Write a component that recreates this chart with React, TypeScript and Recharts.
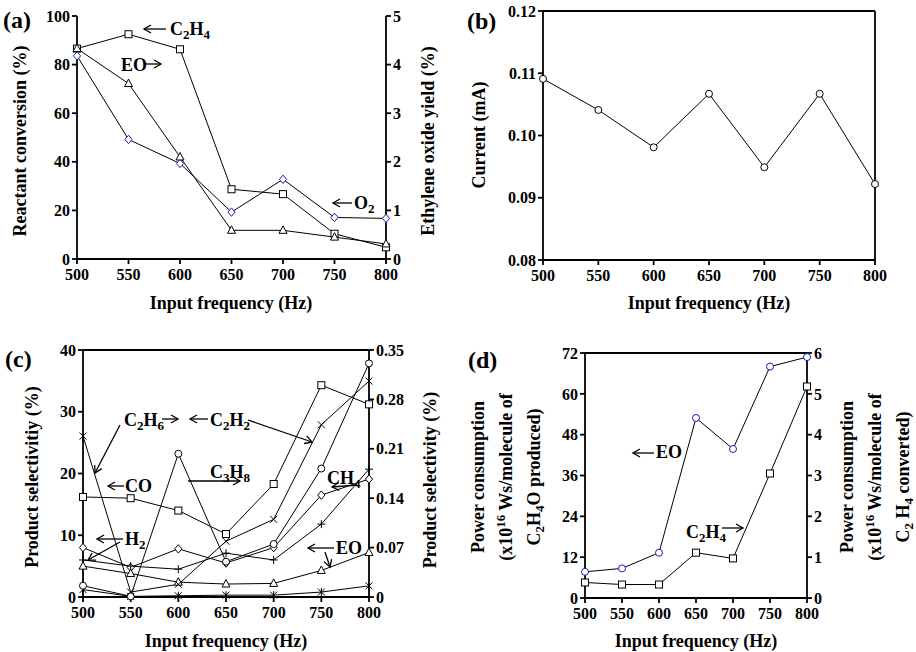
import React from "react";
import { LineChart, Line, XAxis, YAxis, ReferenceLine } from "recharts";

const freqs = [500, 550, 600, 650, 700, 750, 800];

// (a) reactant conversion (%) and EO yield (%)
const c2h4Conversion = [86.6, 92.5, 86.3, 28.7, 26.7, 10.4, 4.8];
const o2Conversion = [83.6, 49.2, 39.3, 19.3, 32.8, 17.1, 16.7];
const eoYield = [4.33, 3.61, 2.1, 0.59, 0.59, 0.45, 0.31];

// (b) current (mA)
const current = [0.1091, 0.1041, 0.0981, 0.1067, 0.0949, 0.1067, 0.0922];

// (c) product selectivity, left axis (%)
const coSel = [16.2, 16.0, 14.0, 10.2, 18.3, 34.3, 31.2];
const ch4Sel = [8.0, 4.8, 7.8, 5.5, 8.0, 16.5, 19.1];
const h2Sel = [6.0, 5.0, 4.5, 7.1, 6.0, 11.8, 20.7];
const eoSel = [5.0, 3.8, 2.4, 2.1, 2.2, 4.3, 7.2];
const c2h2Sel = [1.2, 0.1, 0.2, 0.3, 0.3, 0.8, 1.8];
// (c) product selectivity, right axis (%)
const c3h8Sel = [0.016, 0.001, 0.203, 0.05, 0.075, 0.182, 0.331];
const c2h6Sel = [0.228, 0.007, 0.018, 0.079, 0.11, 0.244, 0.306];

// (d) power consumption
const eoPower = [7.7, 8.7, 13.3, 52.9, 43.8, 68.0, 70.8];
const c2h4Power = [0.38, 0.33, 0.33, 1.11, 0.97, 3.05, 5.18];

const ticksA = [0, 20, 40, 60, 80, 100];
const ticksA2 = [0, 1, 2, 3, 4, 5];
const ticksB = [0.08, 0.09, 0.1, 0.11, 0.12];
const ticksC = [0, 10, 20, 30, 40];
const ticksC2 = [0, 0.07, 0.14, 0.21, 0.28, 0.35];
const ticksD = [0, 12, 24, 36, 48, 60, 72];
const ticksD2 = [0, 1, 2, 3, 4, 5, 6];

const FONT = "'Liberation Serif', 'Times New Roman', serif";
const BLUE = "#1c1cb4";
const tickStyle = { fill: "#000", fontSize: 16, fontWeight: 700, fontFamily: FONT };

const Marker = ({ cx, cy, shape, color }: any) => {
  if (cx == null || cy == null) return null;
  const s = 3.5;
  switch (shape) {
    case "square":
      return <rect x={cx - s} y={cy - s} width={2 * s} height={2 * s} fill="#fff" stroke={color} />;
    case "circle":
      return <circle cx={cx} cy={cy} r={s} fill="#fff" stroke={color} />;
    case "diamond":
      return (
        <polygon
          points={`${cx},${cy - 4.2} ${cx + 3.6},${cy} ${cx},${cy + 4.2} ${cx - 3.6},${cy}`}
          fill="#fff"
          stroke={color}
        />
      );
    case "triangle":
      return (
        <polygon
          points={`${cx},${cy - 4.5} ${cx + 4},${cy + 3} ${cx - 4},${cy + 3}`}
          fill="#fff"
          stroke={color}
        />
      );
    case "cross":
      return (
        <path d={`M${cx - s},${cy - s}L${cx + s},${cy + s}M${cx - s},${cy + s}L${cx + s},${cy - s}`} stroke={color} />
      );
    case "plus":
      return <path d={`M${cx - 4},${cy}L${cx + 4},${cy}M${cx},${cy - 4}L${cx},${cy + 4}`} stroke={color} />;
    default:
      return (
        <path
          d={`M${cx - s},${cy - s}L${cx + s},${cy + s}M${cx - s},${cy + s}L${cx + s},${cy - s}M${cx},${cy - 4}L${cx},${cy + 4}`}
          stroke={color}
        />
      );
  }
};

const dotFn = (shape: string, color = "#000") => (p: any) =>
  <Marker key={`${shape}-${p.index}`} cx={p.cx} cy={p.cy} shape={shape} color={color} />;

const dataA = freqs.map((f, i) => ({ f, c2h4: c2h4Conversion[i], o2: o2Conversion[i], eo: eoYield[i] }));
const dataB = freqs.map((f, i) => ({ f, current: current[i] }));
const dataC = freqs.map((f, i) => ({
  f,
  co: coSel[i],
  ch4: ch4Sel[i],
  h2: h2Sel[i],
  eo: eoSel[i],
  c2h2: c2h2Sel[i],
  c3h8: c3h8Sel[i],
  c2h6: c2h6Sel[i],
}));
const dataD = freqs.map((f, i) => ({ f, eo: eoPower[i], c2h4: c2h4Power[i] }));

const xAxis = (
  <XAxis
    dataKey="f"
    type="number"
    domain={[500, 800]}
    ticks={freqs}
    interval={0}
    height={30}
    tick={tickStyle}
    tickSize={5}
    tickMargin={5}
    stroke="#000"
    strokeWidth={1.8}
  />
);

const line = (key: string, shape: string, axis: string, color = "#000") => (
  <Line
    key={key}
    yAxisId={axis}
    dataKey={key}
    stroke="#000"
    strokeWidth={1}
    dot={dotFn(shape, color)}
    activeDot={false}
    isAnimationActive={false}
  />
);

const yAxis = (id: string, orientation: "left" | "right", domain: number[], ticks: number[], width: number, fmt?: (v: number) => string) => (
  <YAxis
    yAxisId={id}
    orientation={orientation}
    type="number"
    domain={domain}
    ticks={ticks}
    interval={0}
    width={width}
    tick={tickStyle}
    tickSize={5}
    tickMargin={2}
    stroke="#000"
    strokeWidth={1.8}
    tickFormatter={fmt}
  />
);

const Sub = ({ children }: any) => (
  <tspan fontSize={13} dy={4}>
    {children}
  </tspan>
);

const Arrow = ({ x1, y1, x2, y2 }: any) => (
  <line x1={x1} y1={y1} x2={x2} y2={y2} stroke="#000" strokeWidth={1.3} markerEnd="url(#arr)" />
);

const Overlay = () => (
  <svg
    width={916}
    height={652}
    style={{ position: "absolute", left: 0, top: 0, pointerEvents: "none" }}
    fontFamily={FONT}
    fontWeight={700}
    fontSize={18}
  >
    <defs>
      <marker id="arr" markerWidth="10" markerHeight="10" refX="8" refY="5" orient="auto" markerUnits="userSpaceOnUse">
        <path d="M1,1 L8,5 L1,9" fill="none" stroke="#000" strokeWidth={1.3} />
      </marker>
    </defs>

    {/* panel labels */}
    <text x={3} y={28} fontSize={24}>(a)</text>
    <text x={467} y={29} fontSize={24}>(b)</text>
    <text x={5} y={367} fontSize={24}>(c)</text>
    <text x={468} y={368} fontSize={24}>(d)</text>

    {/* (a) */}
    <text transform="translate(26,141) rotate(-90)" textAnchor="middle">Reactant conversion (%)</text>
    <text transform="translate(434,141) rotate(-90)" textAnchor="middle">Ethylene oxide yield (%)</text>
    <text x={231} y={309} textAnchor="middle">Input frequency (Hz)</text>
    <Arrow x1={166} y1={29} x2={144} y2={29} />
    <text x={170} y={35}>C<Sub>2</Sub><tspan dy={-4}>H</tspan><Sub>4</Sub></text>
    <text x={121} y={71}>EO</text>
    <Arrow x1={144} y1={64} x2={161} y2={64} />
    <Arrow x1={352} y1={203} x2={333} y2={203} />
    <text x={354} y={209}>O<Sub>2</Sub></text>

    {/* (b) */}
    <text transform="translate(485,135) rotate(-90)" textAnchor="middle">Current (mA)</text>
    <text x={709} y={309} textAnchor="middle">Input frequency (Hz)</text>

    {/* (c) */}
    <text transform="translate(38,477) rotate(-90)" textAnchor="middle">Product selectivitiy (%)</text>
    <text transform="translate(436,480) rotate(-90)" textAnchor="middle">Product selectivity (%)</text>
    <text x={226} y={647} textAnchor="middle">Input frequency (Hz)</text>
    <text x={124} y={426}>C<Sub>2</Sub><tspan dy={-4}>H</tspan><Sub>6</Sub></text>
    <Arrow x1={162} y1={419} x2={178} y2={419} />
    <Arrow x1={120} y1={425} x2={95} y2={473} />
    <Arrow x1={208} y1={419} x2={190} y2={419} />
    <text x={210} y={426}>C<Sub>2</Sub><tspan dy={-4}>H</tspan><Sub>2</Sub></text>
    <Arrow x1={248} y1={420} x2={312} y2={442} />
    <text x={210} y={478}>C<Sub>3</Sub><tspan dy={-4}>H</tspan><Sub>8</Sub></text>
    <Arrow x1={188} y1={481} x2={240} y2={481} />
    <Arrow x1={124} y1={486} x2={108} y2={486} />
    <text x={125} y={492}>CO</text>
    <Arrow x1={123} y1={539} x2={97} y2={539} />
    <text x={125} y={545}>H<Sub>2</Sub></text>
    <Arrow x1={120} y1={542} x2={88} y2={560} />
    <text x={327} y={484}>CH<Sub>4</Sub></text>
    <Arrow x1={357} y1={485} x2={332} y2={487} />
    <Arrow x1={334} y1={548} x2={308} y2={548} />
    <text x={336} y={554}>EO</text>
    <Arrow x1={325} y1={552} x2={330} y2={567} />

    {/* (d) */}
    <text transform="translate(484,477) rotate(-90)" textAnchor="middle">Power consumption</text>
    <text transform="translate(512,477) rotate(-90)" textAnchor="middle">
      (x10<tspan fontSize={13} dy={-7}>16</tspan><tspan dy={7}> Ws/molecule of</tspan>
    </text>
    <text transform="translate(540,477) rotate(-90)" textAnchor="middle">
      C<Sub>2</Sub><tspan dy={-4}>H</tspan><Sub>4</Sub><tspan dy={-4}>O produced)</tspan>
    </text>
    <text transform="translate(853,477) rotate(-90)" textAnchor="middle">Power consumption</text>
    <text transform="translate(881,477) rotate(-90)" textAnchor="middle">
      (x10<tspan fontSize={13} dy={-7}>16</tspan><tspan dy={7}> Ws/molecule of</tspan>
    </text>
    <text transform="translate(909,477) rotate(-90)" textAnchor="middle">
      C<Sub>2</Sub><tspan dy={-4}> H</tspan><Sub>4</Sub><tspan dy={-4}> converted)</tspan>
    </text>
    <text x={696} y={647} textAnchor="middle">Input frequency (Hz)</text>
    <Arrow x1={654} y1={453} x2={633} y2={453} />
    <text x={656} y={458}>EO</text>
    <text x={686} y={538}>C<Sub>2</Sub><tspan dy={-4}>H</tspan><Sub>4</Sub></text>
    <Arrow x1={722} y1={528} x2={743} y2={528} />
  </svg>
);

const App = () => {
  return (
    <div style={{ position: "absolute", left: 0, top: 0, width: 916, height: 652, background: "#fff" }}>
      <div style={{ position: "absolute", left: 0, top: 0 }}>
        <LineChart width={460} height={310} data={dataA} margin={{ top: 16, right: 34, left: 37, bottom: 21 }}>
          {xAxis}
          {yAxis("left", "left", [0, 100], ticksA, 40)}
          {yAxis("right", "right", [0, 5], ticksA2, 40)}
          {line("c2h4", "square", "left")}
          {line("o2", "diamond", "left", BLUE)}
          {line("eo", "triangle", "right")}
        </LineChart>
      </div>

      <div style={{ position: "absolute", left: 460, top: 0 }}>
        <LineChart width={456} height={310} data={dataB} margin={{ top: 11, right: 41, left: 33, bottom: 20 }}>
          {xAxis}
          {yAxis("left", "left", [0.08, 0.12], ticksB, 50, (v) => v.toFixed(2))}
          <ReferenceLine yAxisId="left" y={0.12} stroke="#000" strokeWidth={1.8} />
          <ReferenceLine yAxisId="left" x={800} stroke="#000" strokeWidth={1.8} />
          {line("current", "circle", "left")}
        </LineChart>
      </div>

      <div style={{ position: "absolute", left: 0, top: 320 }}>
        <LineChart width={460} height={332} data={dataC} margin={{ top: 30, right: 41, left: 43, bottom: 25 }}>
          {xAxis}
          {yAxis("left", "left", [0, 40], ticksC, 40)}
          {yAxis("right", "right", [0, 0.35], ticksC2, 50, (v) => (v === 0 ? "0" : v.toFixed(2)))}
          <ReferenceLine yAxisId="left" y={40} stroke="#000" strokeWidth={1.8} />
          {line("co", "square", "left")}
          {line("ch4", "diamond", "left")}
          {line("h2", "plus", "left")}
          {line("eo", "triangle", "left")}
          {line("c2h2", "star", "left")}
          {line("c3h8", "circle", "right")}
          {line("c2h6", "cross", "right")}
        </LineChart>
      </div>

      <div style={{ position: "absolute", left: 460, top: 320 }}>
        <LineChart width={456} height={332} data={dataD} margin={{ top: 33, right: 69, left: 85, bottom: 24 }}>
          {xAxis}
          {yAxis("left", "left", [0, 72], ticksD, 40)}
          {yAxis("right", "right", [0, 6], ticksD2, 40)}
          <ReferenceLine yAxisId="left" y={72} stroke="#000" strokeWidth={1.8} />
          {line("eo", "circle", "left", BLUE)}
          {line("c2h4", "square", "right")}
        </LineChart>
      </div>

      <Overlay />
    </div>
  );
};

export default App;
